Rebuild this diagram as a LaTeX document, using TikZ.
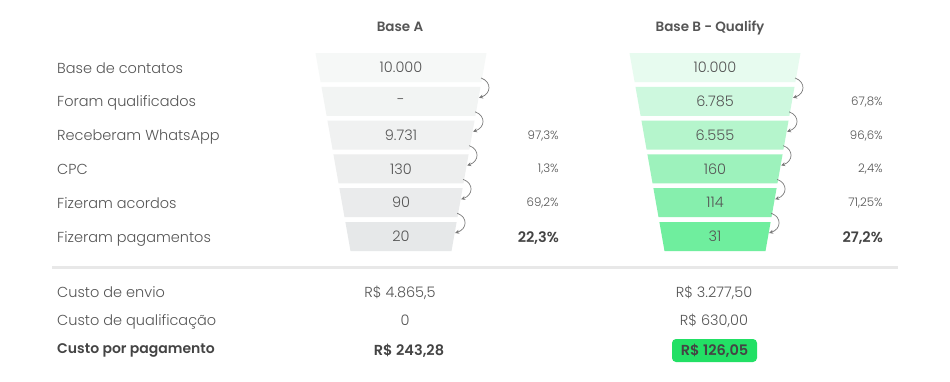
\documentclass[tikz,border=0pt]{standalone}
\usepackage{fontspec}
\setmainfont{Poppins Light}[BoldFont={Poppins SemiBold}]
\usetikzlibrary{arrows.meta}
\definecolor{txt}{HTML}{555555}
\definecolor{txtdark}{HTML}{444444}
\definecolor{arrc}{HTML}{7A7A7A}
\definecolor{sep}{HTML}{E8E8E8}
\definecolor{hl}{HTML}{22E065}
\definecolor{a0}{HTML}{F6F8F7}
\definecolor{a1}{HTML}{F2F4F3}
\definecolor{a2}{HTML}{F0F1F1}
\definecolor{a3}{HTML}{EDEEEE}
\definecolor{a4}{HTML}{EAEBEC}
\definecolor{a5}{HTML}{E6E8E9}
\definecolor{b0}{HTML}{E7FBEF}
\definecolor{b1}{HTML}{CDF8DE}
\definecolor{b2}{HTML}{B5F5CC}
\definecolor{b3}{HTML}{9DF2BC}
\definecolor{b4}{HTML}{86EFAD}
\definecolor{b5}{HTML}{6FEE9E}
\newcommand\frow[5]{%
 \pgfmathsetmacro\rowT{53+33.8*#2}%
 \pgfmathsetmacro\rowB{\rowT+29}%
 \pgfmathsetmacro\rowHt{85.5-0.1768*(\rowT-53)}%
 \pgfmathsetmacro\rowHb{\rowHt-0.1768*29}%
 \pgfmathsetmacro\rowHs{\rowHt-0.1768*25}%
 \pgfmathsetmacro\rowHe{\rowHt-0.1768*11}%
 \fill[fill=#3] ({#1-\rowHt},\rowT) -- ({#1+\rowHt},\rowT) -- ({#1+\rowHb},\rowB) -- ({#1-\rowHb},\rowB) -- cycle;
 \node[num] (#5) at (#1,{\rowT+14.5}) {#4};
 \coordinate (#5s) at ({#1+\rowHs-1},{\rowT+25});
 \coordinate (#5e) at ({#1+\rowHe+0.5},{\rowT+11});
}
\begin{document}
\begin{tikzpicture}[x=1pt,y=-1pt,
  lbl/.style={anchor=base west,inner sep=0,text=txt,font=\fontsize{14.5}{16}\selectfont},
  lblb/.style={anchor=base west,inner sep=0,text=txtdark,font=\fontsize{14}{16}\selectfont\bfseries},
  num/.style={inner sep=0,text=txt,font=\fontsize{14.5}{16}\selectfont},
  pct/.style={anchor=base east,inner sep=0,text=txt,font=\fontsize{11.8}{14}\selectfont},
  pctb/.style={anchor=base east,inner sep=0,text=txtdark,font=\fontsize{14.5}{16}\selectfont\bfseries},
  hdr/.style={anchor=base,inner sep=0,text=txt,font=\fontsize{13.5}{16}\selectfont\bfseries},
  val/.style={anchor=base,inner sep=0,text=txt,font=\fontsize{14.5}{16}\selectfont},
  valb/.style={anchor=base,inner sep=0,text=txtdark,font=\fontsize{14.5}{16}\selectfont\bfseries},
  arr/.style={draw=arrc,line width=0.7pt,-{Stealth[length=4pt,width=4pt]}}]
\useasboundingbox[fill=white] (0,0) rectangle (950,381);
% headers
\node[hdr] (hA) at (400,31) {Base A};
\node[hdr] (hB) at (710,31) {Base B - Qualify};
% left labels
\node[lbl] (l0) at (57,73) {Base de contatos};
\node[lbl] (l1) at (57,106.8) {Foram qualificados};
\node[lbl] (l2) at (57,140.6) {Receberam WhatsApp};
\node[lbl] (l3) at (57,174.4) {CPC};
\node[lbl] (l4) at (57,208.2) {Fizeram acordos};
\node[lbl] (l5) at (57,242) {Fizeram pagamentos};
% funnel A
\frow{401}{0}{a0}{10.000}{rA0}
\frow{401}{1}{a1}{-}{rA1}
\frow{401}{2}{a2}{9.731}{rA2}
\frow{401}{3}{a3}{130}{rA3}
\frow{401}{4}{a4}{90}{rA4}
\frow{401}{5}{a5}{20}{rA5}
% funnel B
\frow{715}{0}{b0}{10.000}{rB0}
\frow{715}{1}{b1}{6.785}{rB1}
\frow{715}{2}{b2}{6.555}{rB2}
\frow{715}{3}{b3}{160}{rB3}
\frow{715}{4}{b4}{114}{rB4}
\frow{715}{5}{b5}{31}{rB5}
% arrows
\draw[arr] (rA0s) .. controls +(11,4) and +(12,-4) .. (rA1e);
\draw[arr] (rA1s) .. controls +(11,4) and +(12,-4) .. (rA2e);
\draw[arr] (rA2s) .. controls +(11,4) and +(12,-4) .. (rA3e);
\draw[arr] (rA3s) .. controls +(11,4) and +(12,-4) .. (rA4e);
\draw[arr] (rA4s) .. controls +(11,4) and +(12,-4) .. (rA5e);
\draw[arr] (rB0s) .. controls +(11,4) and +(12,-4) .. (rB1e);
\draw[arr] (rB1s) .. controls +(11,4) and +(12,-4) .. (rB2e);
\draw[arr] (rB2s) .. controls +(11,4) and +(12,-4) .. (rB3e);
\draw[arr] (rB3s) .. controls +(11,4) and +(12,-4) .. (rB4e);
\draw[arr] (rB4s) .. controls +(11,4) and +(12,-4) .. (rB5e);
% percentages
\node[pct] (pA2) at (559,139) {97,3\%};
\node[pct] (pA3) at (559,172.8) {1,3\%};
\node[pct] (pA4) at (559,206.6) {69,2\%};
\node[pctb] (pA5) at (559,242.5) {22,3\%};
\node[pct] (pB1) at (883,105.2) {67,8\%};
\node[pct] (pB2) at (883,139) {96,6\%};
\node[pct] (pB3) at (883,172.8) {2,4\%};
\node[pct] (pB4) at (883,206.6) {71,25\%};
\node[pctb] (pB5) at (883,242.5) {27,2\%};
% separator
\draw[sep,line width=3pt] (52,267) coordinate (sepL) -- (898,267) coordinate (sepR);
% costs
\node[lbl] (c0) at (57,297.5) {Custo de envio};
\node[lbl] (c1) at (57,325) {Custo de qualificação};
\node[lblb] (c2) at (57,353.5) {Custo por pagamento};
\node[val] (vA0) at (400,297.5) {R\$ 4.865,5};
\node[val] (vA1) at (405,325) {0};
\node[valb] (vA2) at (409,355.5) {R\$ 243,28};
\node[val] (vB0) at (714,297.5) {R\$ 3.277,50};
\node[val] (vB1) at (714,325) {R\$ 630,00};
\node[fill=hl,rounded corners=4pt,minimum width=85pt,minimum height=23pt,inner sep=0,text=txtdark,font=\fontsize{14.5}{16}\selectfont\bfseries] (vB2) at (714.5,350.5) {R\$ 126,05};
\end{tikzpicture}
\end{document}
